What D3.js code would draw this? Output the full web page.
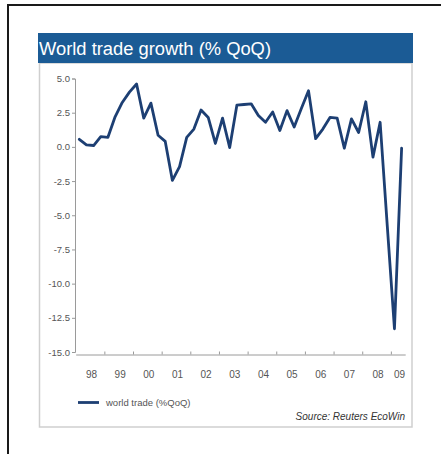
<!DOCTYPE html>
<html>
<head>
<meta charset="utf-8">
<script src="https://cdn.jsdelivr.net/npm/d3@7/dist/d3.min.js"></script>
<style>
  html, body { margin: 0; padding: 0; background: #fff; }
  svg { display: block; font-family: "Liberation Sans", Arial, sans-serif; }
</style>
</head>
<body>
<svg id="chart" width="441" height="454"></svg>
<script>
// Quarterly world trade growth, % change on previous quarter
const quarters = [
  "1998Q1","1998Q2","1998Q3","1998Q4",
  "1999Q1","1999Q2","1999Q3","1999Q4",
  "2000Q1","2000Q2","2000Q3","2000Q4",
  "2001Q1","2001Q2","2001Q3","2001Q4",
  "2002Q1","2002Q2","2002Q3","2002Q4",
  "2003Q1","2003Q2","2003Q3","2003Q4",
  "2004Q1","2004Q2","2004Q3","2004Q4",
  "2005Q1","2005Q2","2005Q3","2005Q4",
  "2006Q1","2006Q2","2006Q3","2006Q4",
  "2007Q1","2007Q2","2007Q3","2007Q4",
  "2008Q1","2008Q2","2008Q3","2008Q4",
  "2009Q1","2009Q2"
];
const worldTrade = [
  0.55, 0.15, 0.10, 0.75,
  0.70, 2.20, 3.25, 4.00,
  4.60, 2.10, 3.20, 0.85,
  0.40, -2.45, -1.45, 0.70,
  1.30, 2.70, 2.15, 0.25,
  2.10, -0.05, 3.05, 3.10,
  3.15, 2.30, 1.80, 2.55,
  1.20, 2.65, 1.45, 2.80,
  4.10, 0.60, 1.30, 2.15,
  2.10, -0.10, 2.05, 1.05,
  3.30, -0.75, 1.80, -5.80,
  -13.30, -0.10
];
const yearTicks = [1999, 2000, 2001, 2002, 2003, 2004, 2005, 2006, 2007, 2008, 2009];
const yearLabels = ["98","99","00","01","02","03","04","05","06","07","08","09"];
const yTicks = [5, 2.5, 0, -2.5, -5, -7.5, -10, -12.5, -15];
const titleText = "World trade growth (% QoQ)";
const legendText = "world trade (%QoQ)";
const sourceText = "Source: Reuters EcoWin";

const svg = d3.select("#chart");
const lineColor = "#1d3f73";
const textColor = "#555";

// decimal-year position of a quarter label, at the middle of the quarter
const quarterPos = q => +q.slice(0, 4) + (+q.slice(5) - 0.5) / 4;

const x = d3.scaleLinear().domain([1998, 2009.5]).range([75.7, 405.2]);
const y = d3.scaleLinear().domain([-15, 5]).range([352, 78.5]);

// outer frame
svg.append("path")
  .attr("d", "M8,454 L8,5 L441,5")
  .attr("fill", "none")
  .attr("stroke", "#1a1a1a")
  .attr("stroke-width", 2);

// chart panel
svg.append("rect")
  .attr("x", 39.5).attr("y", 63)
  .attr("width", 372.5).attr("height", 364)
  .attr("fill", "#fff")
  .attr("stroke", "#cfcfcf")
  .attr("stroke-width", 1.5);

// title bar
svg.append("rect")
  .attr("x", 38).attr("y", 33)
  .attr("width", 375).attr("height", 30)
  .attr("fill", "#1b5b95");
svg.append("text")
  .attr("x", 39).attr("y", 55)
  .attr("fill", "#fff")
  .attr("font-size", 18)
  .attr("textLength", 232)
  .attr("lengthAdjust", "spacingAndGlyphs")
  .text(titleText);

// y axis
const yAxis = svg.append("g")
  .attr("transform", `translate(${x(1998) - 0.7},0)`)
  .call(d3.axisLeft(y).tickValues(yTicks).tickSize(3).tickPadding(2)
    .tickFormat(d => d.toFixed(1)));
yAxis.select(".domain").attr("stroke", "#9a9a9a");
yAxis.selectAll(".tick line").attr("stroke", "#9a9a9a");
yAxis.selectAll(".tick text")
  .attr("fill", textColor)
  .attr("font-size", 9.5)
  .attr("font-family", "Liberation Sans, Arial, sans-serif");

// x axis: tick marks at year boundaries
const xAxisY = y(-15) + 2.5;
const xAxis = svg.append("g")
  .attr("transform", `translate(0,${xAxisY})`)
  .call(d3.axisBottom(x).tickValues(yearTicks).tickSize(-3).tickSizeOuter(0)
    .tickFormat(""));
xAxis.select(".domain").attr("stroke", "#9a9a9a");
xAxis.selectAll(".tick line").attr("stroke", "#9a9a9a");

// year labels centred on each year (2009 on its half year)
const labelPos = yearLabels.map((l, i) => i < yearLabels.length - 1 ? 1998 + i + 0.5 : 2009.25);
svg.append("g")
  .selectAll("text")
  .data(yearLabels)
  .join("text")
  .attr("x", (d, i) => x(labelPos[i]) + 1.5)
  .attr("y", xAxisY + 23)
  .attr("text-anchor", "middle")
  .attr("fill", textColor)
  .attr("font-size", 10)
  .text(d => d);

// series line
const line = d3.line()
  .x((d, i) => x(quarterPos(quarters[i])))
  .y(d => y(d));
svg.append("path")
  .datum(worldTrade)
  .attr("d", line)
  .attr("fill", "none")
  .attr("stroke", lineColor)
  .attr("stroke-width", 2.8)
  .attr("stroke-linejoin", "round")
  .attr("stroke-linecap", "round");

// legend
svg.append("line")
  .attr("x1", 78).attr("x2", 99)
  .attr("y1", 402.5).attr("y2", 402.5)
  .attr("stroke", lineColor)
  .attr("stroke-width", 2.8);
svg.append("text")
  .attr("x", 106).attr("y", 406)
  .attr("fill", textColor)
  .attr("font-size", 9.5)
  .text(legendText);

// source note
svg.append("text")
  .attr("x", 405).attr("y", 420)
  .attr("text-anchor", "end")
  .attr("fill", "#333")
  .attr("font-size", 10)
  .attr("font-style", "italic")
  .text(sourceText);
</script>
</body>
</html>
